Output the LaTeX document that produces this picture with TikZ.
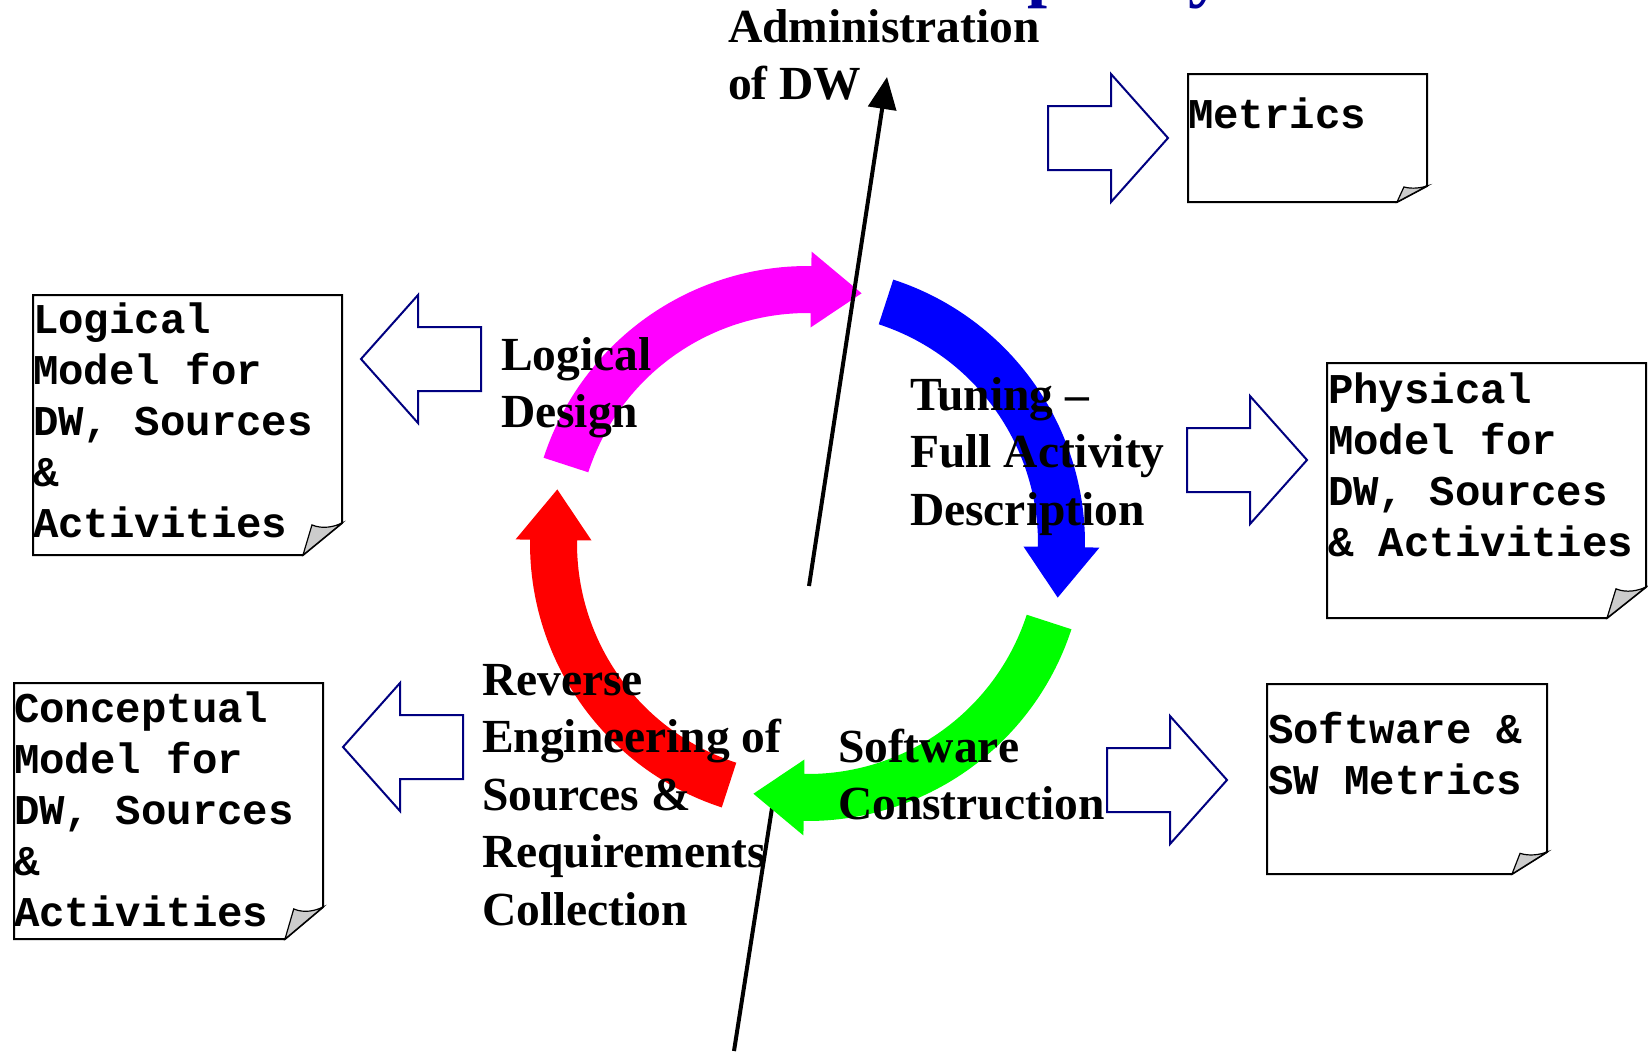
\documentclass[tikz,border=0pt]{standalone}
\usepackage{fontspec}
\setmainfont{Liberation Serif}
\setmonofont{Liberation Mono}
\usetikzlibrary{arrows.meta}
\definecolor{navyc}{RGB}{0,0,128}
\definecolor{titlec}{RGB}{0,0,153}
\definecolor{magc}{RGB}{255,0,255}
\definecolor{bluec}{RGB}{0,0,255}
\definecolor{greenc}{RGB}{0,255,0}
\definecolor{redc}{RGB}{255,0,0}
\definecolor{flapgrey}{RGB}{204,204,204}
\def\cx{807.5}\def\cy{543.5}\def\R{254}
\newcommand\cyclearrow[3]{%
  \fill[#1] plot[domain=#2:#3,samples=60,variable=\t] ({\cx+(\R+23.5)*cos(\t)},{\cy+(\R+23.5)*sin(\t)})
    -- ({\cx+(\R+38)*cos(#3)},{\cy+(\R+38)*sin(#3)})
    -- ({\cx+(\R+2)*cos(#3+11.4)},{\cy+(\R+2)*sin(#3+11.4)})
    -- ({\cx+(\R-38)*cos(#3)},{\cy+(\R-38)*sin(#3)})
    -- plot[domain=#3:#2,samples=60,variable=\t] ({\cx+(\R-23.5)*cos(\t)},{\cy+(\R-23.5)*sin(\t)})
    -- cycle;}
\newcommand\blockarrow[3]{% tail x, mid y, direction (+1 right, -1 left)
  \draw[barrow] (#1,{#2-32}) -- ({#1+(#3)*63},{#2-32}) -- ({#1+(#3)*63},{#2-64})
    -- ({#1+(#3)*120},#2) -- ({#1+(#3)*63},{#2+64}) -- ({#1+(#3)*63},{#2+32})
    -- (#1,{#2+32}) -- cycle;}
\newcommand\paperbox[6]{% left, top, right, bottom, fold x, fold y
  \draw[paper] (#1,#2) -- (#3,#2) -- (#3,{#4-#6}) -- ({#3-#5},#4) -- (#1,#4) -- cycle;
  \draw[flap] ({#3-#5},#4) .. controls ({#3-0.88*#5},{#4-0.5*#6}) .. ({#3-0.77*#5},{#4-0.94*#6})
    .. controls ({#3-0.5*#5},{#4-0.8*#6}) and ({#3-0.2*#5},{#4-0.88*#6}) .. (#3,{#4-#6}) -- cycle;}
\tikzset{
  barrow/.style={draw=navyc, line width=1pt, fill=white, line join=miter},
  paper/.style={draw=black, line width=1pt, fill=white},
  flap/.style={draw=black, line width=0.6pt, fill=flapgrey},
  lbl/.style={font=\bfseries\fontsize{23.75}{28.75}\selectfont, anchor=base west, inner sep=0pt, outer sep=0pt, text width=300pt,
    execute at begin node={\spaceskip=0.25em\relax}},
  boxtxt/.style={font=\ttfamily\bfseries\fontsize{21.2}{25.5}\selectfont, anchor=base west, inner sep=0pt, outer sep=0pt, text width=170pt,
    execute at begin node={\spaceskip=0.6em\relax}},
  titlefrag/.style={font=\bfseries\fontsize{36}{40}\selectfont, text=titlec, anchor=base west, inner sep=0pt, outer sep=0pt},
  axisline/.style={line width=2pt, draw=black}
}
\begin{document}
\begin{tikzpicture}[x=0.5pt,y=-0.5pt]
\useasboundingbox (0,0) rectangle (1648,1051);
\fill[white] (0,0) rectangle (1648,1051);
\begin{scope}
\clip (0,0) rectangle (1648,1051);
% clipped remains of the title above the picture
\node[titlefrag] (titleFragP) at (1027,-7) {p};
\node[titlefrag] (titleFragY) at (1188,-7) {y};
\end{scope}

% lower part of the axis line (under the cycle)
\coordinate (lineBottom) at (734,1051);
\coordinate (gapLow) at (772,808);
\coordinate (gapHigh) at (809,586);
\coordinate (lineTop) at (887,77);
\draw[axisline] (lineBottom) -- (gapLow);

% cycle arrows
\cyclearrow{magc}{198}{270.8}
\cyclearrow{bluec}{288}{360.8}
\cyclearrow{greenc}{18}{90.8}
\cyclearrow{redc}{108}{180.8}

% upper part of the axis line with arrow head
\draw[axisline, -{Triangle[length=16pt,width=14pt]}] (gapHigh) -- (lineTop);

% block arrows
\blockarrow{1048}{138}{1}
\blockarrow{1187}{460}{1}
\blockarrow{1107}{780}{1}
\blockarrow{481}{359}{-1}
\blockarrow{463}{747}{-1}

% papers
\paperbox{1188}{74}{1427}{202}{30}{16}
\paperbox{33}{295}{342}{555}{39}{32}
\paperbox{1327}{363}{1646}{618}{39}{31}
\paperbox{1267}{684}{1547}{874}{35}{22}
\paperbox{14}{683}{323}{939}{38}{32}

\node[boxtxt] (metrics) at (1188,128) {Metrics};
\node[boxtxt] (logmodel) at (33,333) {Logical\\Model for\\DW, Sources\\\&\\Activities};
\node[boxtxt] (physmodel) at (1328,403) {Physical\\Model for\\DW, Sources\\\& Activities};
\node[boxtxt] (swmetrics) at (1268,743) {Software \&\\SW Metrics};
\node[boxtxt] (concmodel) at (14,722) {Conceptual\\Model for\\DW, Sources\\\&\\Activities};

% labels
\node[lbl] (admin) at (728,42) {Administration\\of DW};
\node[lbl] (logdesign) at (501,370) {Logical\\Design};
\node[lbl] (tuning) at (910,410) {Tuning –\\Full Activity\\Description};
\node[lbl] (reverse) at (482,695) {Reverse\\Engineering of\\Sources \&\\Requirements\\Collection};
\node[lbl] (swcons) at (838,762) {Software\\Construction};
\end{tikzpicture}
\end{document}
